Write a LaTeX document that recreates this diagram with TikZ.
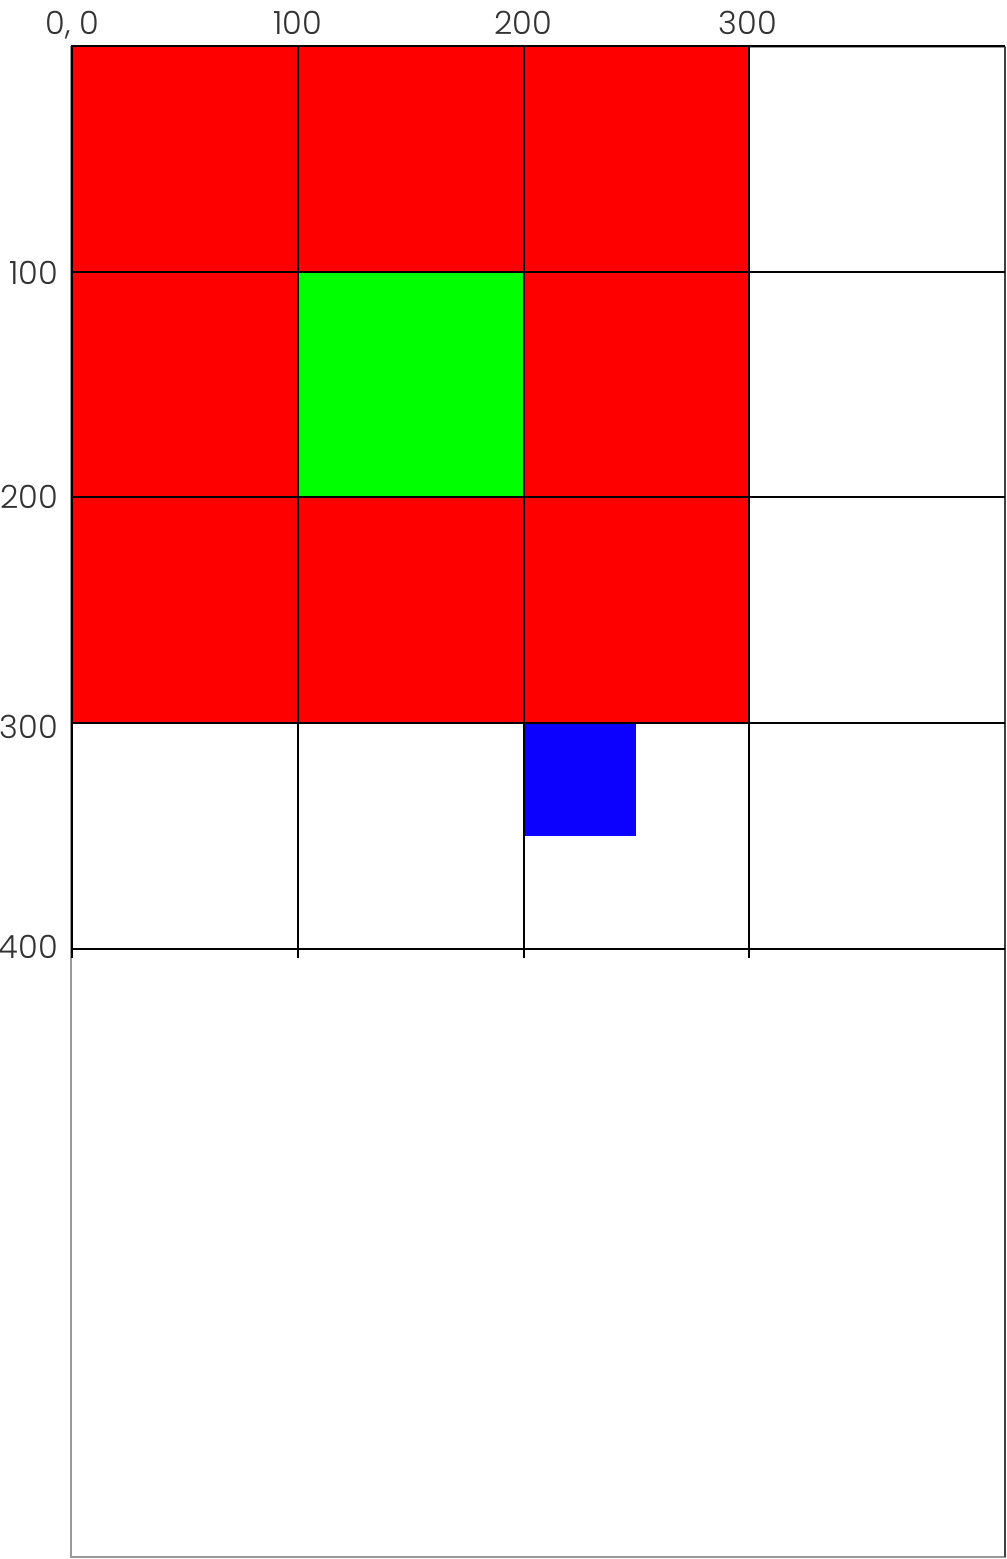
\documentclass[tikz,border=0pt]{standalone}
\usepackage{fontspec}
\newfontfamily\lblfont{Poppins Light}
\definecolor{cellred}{RGB}{255,0,0}
\definecolor{cellgreen}{RGB}{0,255,0}
\definecolor{cellblue}{RGB}{12,0,255}
\definecolor{framegray}{RGB}{153,153,153}
\definecolor{txtgray}{RGB}{51,51,51}
\tikzset{
  gridline/.style={black,line width=2pt},
  framebox/.style={framegray,line width=1.5pt},
  toplbl/.style={font=\lblfont\fontsize{32}{33}\selectfont,text=txtgray,anchor=base,inner sep=0pt},
  leftlbl/.style={font=\lblfont\fontsize{32}{33}\selectfont,text=txtgray,anchor=east,inner sep=0pt},
}
\begin{document}
\begin{tikzpicture}[x=1pt,y=-1pt]
\useasboundingbox (0,0) rectangle (1007,1559);
% frame
\draw[framebox] (71,47) rectangle (1005,1557);
\draw[black!75,line width=1.5pt] (1005,47) -- (1005,1557);
% cells
\fill[cellred] (72,46) rectangle (749,723);
\fill[cellgreen] (298,272) rectangle (524,497);
\fill[cellblue] (524,723) rectangle (636,836);
% grid
\foreach \y in {46,272,497,723,949} \draw[gridline] (71,\y) -- (1005,\y);
\foreach \x in {72,298,524,749} \draw[gridline] (\x,46) -- (\x,958);
% labels
\node[toplbl] (t0) at (72.5,34) {0, 0};
\node[toplbl] (t1) at (297.5,34) {100};
\node[toplbl] (t2) at (523.5,34) {200};
\node[toplbl] (t3) at (748,34) {300};
\node[leftlbl] (l1) at (58,273) {100};
\node[leftlbl] (l2) at (58,497) {200};
\node[leftlbl] (l3) at (58,727) {300};
\node[leftlbl] (l4) at (58,947) {400};
\end{tikzpicture}
\end{document}
